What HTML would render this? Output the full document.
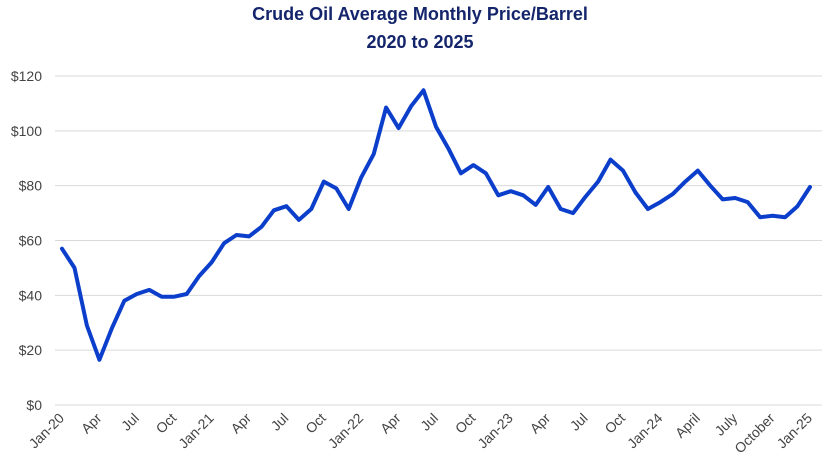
<!DOCTYPE html>
<html><head><meta charset="utf-8">
<style>
html,body{margin:0;padding:0;background:#fff;}
svg{display:block;font-family:"Liberation Sans",sans-serif;}
</style></head>
<body>
<svg id="c" width="840" height="472" viewBox="0 0 840 472" xmlns="http://www.w3.org/2000/svg">
<text x="420" y="20" text-anchor="middle" font-size="18" font-weight="bold" fill="#14256b">Crude Oil Average Monthly Price/Barrel</text>
<text x="420" y="48" text-anchor="middle" font-size="18" font-weight="bold" fill="#14256b">2020 to 2025</text>
<g id="grid" stroke="#d9d9d9" stroke-width="1"></g>
<g id="ylab" font-size="14" fill="#444" text-anchor="end"></g>
<g id="xlab" font-size="14" fill="#444" text-anchor="end"></g>
<polyline id="line" fill="none" stroke="#0b3ecb" stroke-width="4" stroke-linejoin="round" stroke-linecap="round"/>
</svg>
<script>
var d=[57,50,29,16.5,28,38,40.5,42,39.5,39.5,40.5,47,52,59,62,61.5,65,71,72.5,67.5,71.5,81.5,79,71.5,83,91.5,108.5,101,109,114.8,101.5,93.5,84.5,87.5,84.5,76.5,78,76.5,73,79.5,71.5,70,76,81.5,89.5,85.5,77.5,71.5,74,77,81.5,85.5,80,75,75.5,74,68.5,69,68.5,72.5,79.5];
var x0=62,dx=(810-62)/60,y0=405,ys=(405-76)/120;
var ns="http://www.w3.org/2000/svg";
function el(t,a,p,txt){var e=document.createElementNS(ns,t);for(var k in a)e.setAttribute(k,a[k]);if(txt)e.textContent=txt;document.getElementById(p).appendChild(e);}
for(var i=0;i<=6;i++){var y=y0-i*20*ys;el('line',{x1:55,x2:822,y1:y,y2:y},'grid');el('text',{x:42,y:y+5},'ylab','$'+(i*20));}
var L=['Jan-20','Apr','Jul','Oct','Jan-21','Apr','Jul','Oct','Jan-22','Apr','Jul','Oct','Jan-23','Apr','Jul','Oct','Jan-24','April','July','October','Jan-25'];
for(var j=0;j<L.length;j++){var x=x0+j*3*dx+3,y=419;el('text',{x:x,y:y,transform:'rotate(-45 '+x+' '+y+')'},'xlab',L[j]);}
document.getElementById('line').setAttribute('points',d.map(function(v,i){return (x0+i*dx).toFixed(1)+','+(y0-v*ys).toFixed(1)}).join(' '));
</script>
</body></html>
